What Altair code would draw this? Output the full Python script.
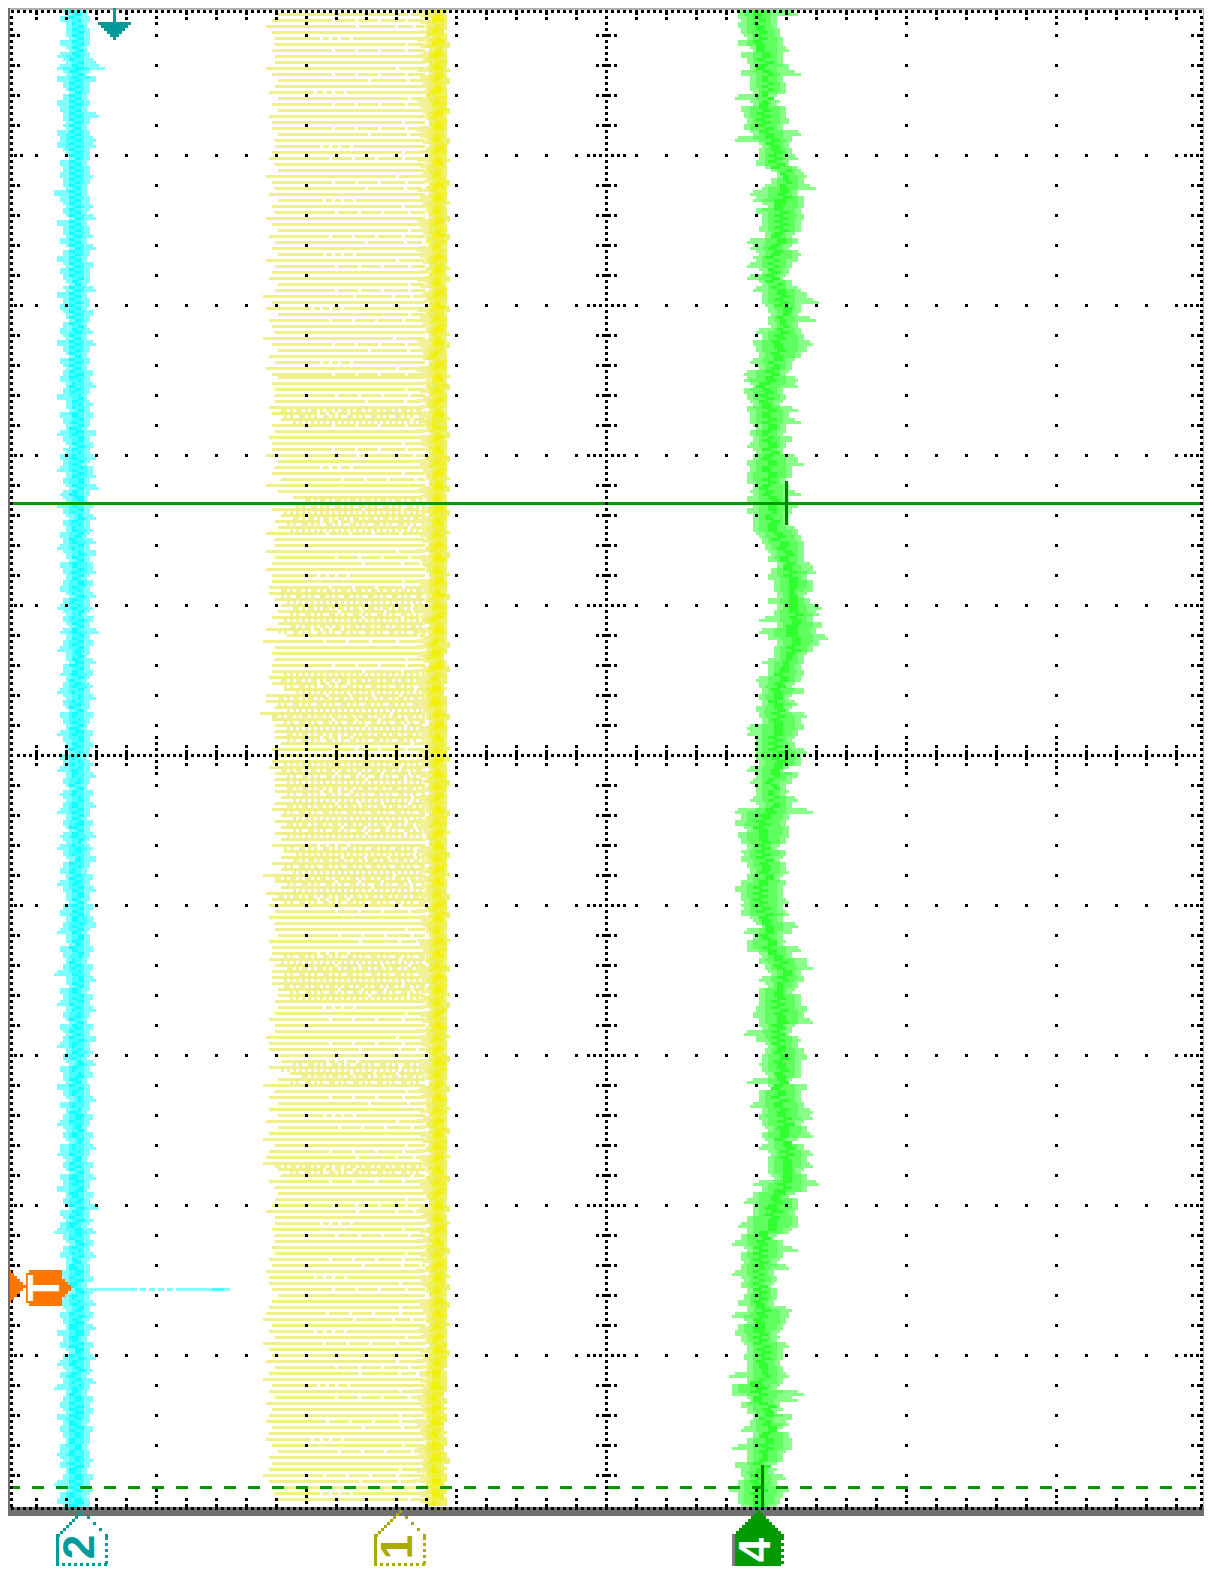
import altair as alt
import pandas as pd

# ---- traces (one row per 6 px of screen height) ----
# green: left/right extents, units of 1/3 px from x=720
GREEN_L = [60,50,60,50,60,80,50,100,60,80,90,60,90,90,95,42,95,60,70,80,70,95,42,130,115,115,105,150,175,150,130,90,95,140,105,125,125,115,135,80,90,115,105,80,125,80,125,95,125,125,140,150,140,150,105,125,95,105,120,90,115,70,70,100,70,80,95,80,90,90,105,90,100,80,105,100,80,90,80,80,100,100,80,
95,80,100,95,100,115,130,135,150,145,175,150,140,165,165,175,140,175,160,120,175,120,140,170,160,165,130,140,145,105,115,130,115,130,105,115,130,85,78,105,105,105,110,120,85,105,90,105,110,90,115,42,60,42,85,50,60,80,70,60,85,90,80,60,42,60,70,70,60,95,130,70,100,80,85,130,115,135,150,115,140,120,115,
115,105,95,115,125,70,105,140,135,125,120,125,140,80,155,115,115,90,130,115,125,140,125,140,115,150,140,140,140,165,100,130,95,70,100,100,85,50,85,60,35,80,60,70,60,35,70,60,80,70,50,80,35,85,50,42,60,80,80,70,85,85,25,85,35,35,90,60,85,100,90,60,100,80,35,85,80,42,60,70,50,25,50,50,70]
GREEN_R = [165,230,175,175,180,185,185,205,185,185,210,240,185,195,195,165,175,195,195,210,190,240,220,205,220,230,205,240,260,250,285,230,255,255,240,250,240,240,215,230,205,240,230,220,205,190,215,240,265,295,240,230,285,230,240,250,275,265,240,215,220,195,230,230,185,195,180,230,205,240,195,190,220,195,190,230,250,215,215,195,205,240,205,
230,215,210,205,230,240,250,250,255,255,275,285,260,275,275,250,270,310,300,275,310,285,320,295,280,255,250,240,250,240,215,255,205,230,210,265,240,255,230,220,225,265,240,245,190,230,220,200,195,230,220,275,205,195,205,210,195,175,195,180,195,205,180,195,185,185,210,185,205,185,230,215,185,185,240,215,265,275,240,250,230,215,240,
240,265,255,275,215,205,240,230,255,265,240,240,240,210,265,240,240,250,275,275,245,260,275,220,250,275,260,275,245,260,295,265,210,230,230,225,230,230,205,160,185,230,185,175,205,160,175,150,175,170,160,215,210,195,185,175,175,205,185,185,180,185,205,185,175,250,230,180,175,215,205,175,205,220,220,190,190,155,165,195,170,205,185,180,160]

# cyan: left/right extents in px
CYAN_L = [62,65,59,65,65,68,59,68,56,65,56,65,56,62,68,62,56,59,62,65,65,56,59,56,65,68,59,62,59,62,65,53,59,65,62,68,56,62,65,59,68,62,56,65,59,62,68,65,56,62,59,65,68,62,59,65,56,62,68,59,65,62,
59,66,63,56,65,68,60,63,66,57,62,68,65,60,63,57,66,62,68,60,65,57,63,68,62,66,59,63,57,65,68,60,63,66,62,59,68,63,57,65,62,68,60,66,63,58,65,68,62,60,66,63,57,65,62,68,60,63,66,57,62,65,68,60,
63,58,66,62,68,60,65,63,57,66,62,68,60,65,58,63,68,62,60,66,57,63,65,68,62,59,66,63,57,65,68,60,62,66,63,54,65,68,60,63,57,66,62,68,59,65,62,57,66,63,68,60,62,65,56,63,68,60,66,62,58,65,63,68,
60,57,65,62,68,60,63,56,66,62,68,59,65,60,55,63,68,62,59,65,66,56,62,60,68,63,57,65,59,62,66,56,63,60,68,62,57,65,60,63,55,66,62,59,65,56,63,60,62,66,59,57,62,
59,66,62,53,65,60,56,65,62,59,55,65]
CYAN_R = [88,88,89,88,89,89,89,87,89,95,104,88,95,90,89,88,89,87,98,89,88,89,95,95,89,89,87,89,92,89,86,86,90,93,88,95,87,89,92,88,96,89,87,93,89,91,88,95,87,90,88,94,89,86,92,88,96,89,87,91,88,93,
89,96,90,87,92,89,94,91,88,97,90,93,89,96,88,92,95,89,98,91,87,93,90,96,89,92,88,95,90,97,89,92,95,88,93,90,96,89,92,87,94,90,98,89,93,91,88,96,90,93,87,92,89,95,90,88,93,91,87,92,89,94,90,88,
92,89,95,90,87,93,89,96,91,88,93,90,95,88,92,89,97,90,87,93,89,95,91,88,94,89,92,96,88,91,89,94,90,87,93,89,96,91,88,92,90,95,89,87,93,90,97,89,92,88,95,90,93,87,91,89,96,90,88,94,91,87,92,89,
95,90,87,93,89,96,91,88,93,90,98,89,92,87,95,90,93,89,96,88,91,89,94,87,92,90,96,89,93,88,95,91,87,93,89,96,90,92,88,95,90,87,93,89,94,91,88,92,89,90,87,91,92,
90,87,93,89,92,88,91,89,94,87,92,90]

# yellow: stripe left end (1/3 px from x=260) and right edge of the bright band (px)
YELLOW_L = [18,54,36,18,36,45,45,36,45,45,18,36,54,45,27,54,36,54,27,36,36,54,45,45,36,27,45,54,18,36,45,27,54,36,45,18,36,54,27,45,36,54,18,45,36,27,54,45,9,36,18,54,27,36,45,9,36,54,27,45,18,36,
55,36,45,45,45,27,36,60,36,45,27,36,36,18,55,45,36,63,18,55,100,70,36,60,45,55,18,45,45,18,45,36,18,36,36,27,27,45,60,55,36,55,18,80,9,45,36,45,36,36,27,36,70,18,18,45,0,36,45,45,45,60,36,45,36,27,45,45,45,45,60,45,36,60,45,60,45,60,36,70,60,36,64,9,45,60,18,36,
25,45,27,45,45,54,27,36,40,27,45,36,36,36,54,54,45,54,45,27,45,45,18,27,27,45,60,27,90,54,9,45,27,54,27,54,18,54,27,9,45,27,18,9,54,63,27,45,54,45,36,18,45,45,36,45,45,36,45,27,36,18,27,27,36,54,36,
30,18,9,36,27,45,9,27,36,18,45,27,9,36,27,45,18,36,27,18,36,27,18,36,54,27,36,27,9,27,36,45,54]
YELLOW_R = [449,447,451,448,446,450,452,447,449,446,451,448,453,447,450,446,449,452,448,446,450,447,453,449,446,451,448,450,447,452,446,449,451,447,450,454,448,446,452,449,447,450,446,451,448,453,447,449,446,450,452,448,446,449,451,447,453,448,450,446,449,451,
447,452,448,446,450,447,451,449,446,453,448,450,447,452,446,449,451,448,454,447,450,446,452,449,447,451,448,450,446,453,449,447,451,448,446,450,452,447,449,446,451,448,450,447,453,449,446,448,452,447,450,448,446,451,449,447,452,448,446,450,447,451,449,454,447,450,446,452,449,448,450,447,453,449,446,451,448,450,
447,452,449,446,451,448,450,447,453,449,446,452,448,450,447,451,449,446,450,448,452,447,449,446,451,448,453,449,447,450,446,451,448,450,447,452,449,446,450,448,453,447,449,451,446,450,448,452,447,449,446,451,448,450,447,452,449,446,450,448,453,447,451,449,446,450,
448,452,447,449,446,451,448,454,450,447,452,449,446,451,448,450,447,449,452,446,450,448,447,451,449,446,450,448,447,449,446,448,447,
450,446,449,452,447,448,451,446,449,447,450,448,446,451]

DENSE_TOP = [407,495,583,670,760,843,948,1057,1160]
DENSE_BOTTOM = [420,527,630,737,833,903,1000,1083,1170]

CYAN_STRAY_START = [86,140,149,158,167,176]
CYAN_STRAY_END = [137,146,155,164,173,230]
ARROW_ROWS = [33,27,21,15,9,3]
TRIANGLE_REACH = [8,11,14,17,20,23,20,17,14,11,8]
BODY_REACH = [62,62,62,65,68,71,71,68,65,62,62,62]
MARKER_LABELS = ["2","1","4"]
MARKER_TIPS = [81,399,757]
MARKER_COLORS = ["#009C9C","#AAAA00","#009900"]
VIEW_W, VIEW_H = 1196, 1560

rects = []
def box(x0, x1, y0, y1, c):
    rects.append({"a": x0, "b": x1, "t": y0, "u": y1, "c": c})
def dot(x, y):
    box(x-1, x+2, y-1, y+2, "#000000")
def snap(v):
    return round(v/3)*3
def roll(seq, n):
    return list(pd.Series(seq).rolling(n, center=True, min_periods=1).median())

# ---- yellow stripes as dashed rules ----
DASHES = {"s": [2000, 1], "a": [130, 3, 60, 3, 400], "b": [60, 3, 20, 3, 20, 3, 24, 3, 300],
          "c": [90, 3, 36, 3, 15, 3, 21, 3, 400], "d": [45, 3, 6, 3, 6, 3, 9, 3, 400],
          "x": [3, 3], "y": [6, 3, 3, 3], "z": [3, 3, 3, 6, 6, 3]}
stripes = []
NAMES = "sabcsdabs"
def ky(i):
    return 8 + 6*i if i < 62 else 5 + 6*i
for i, v in enumerate(YELLOW_L):
    y = ky(i)
    if y > 1506:
        break
    xs = 260 + snap(v/3)
    stripes.append({"a": xs, "b": 425, "y": y + .5, "p": NAMES[i % 9], "c": "#F0F088"})
    if any(t <= y <= u for t, u in zip(DENSE_TOP, DENSE_BOTTOM)):
        stripes.append({"a": xs + 12, "b": 425, "y": y + 3.5, "p": "xyz"[i % 3], "c": "#F0F09C"})

# ---- yellow band ----
med = roll(YELLOW_R, 15)
for i, r in enumerate(YELLOW_R):
    y = 8 + 6*i
    if y > 1506:
        break
    c = med[i] - 15
    box(snap(c - 15 + (i % 4)*3), snap(c + 12), y - 2, y + 1, "#F2F098")
    box(snap(c - 18 + (i % 5)*3), snap(c + 12), y + 1, y + 4, "#F2F098")
    box(snap(c - 9 + (i % 3)*3), snap(r - 3), y - 2, y + 1, "#F0F070")
    box(snap(c - 6), snap((r + c + 12)/2), y + 1, y + 4, "#F0F070")
    box(snap(c - 3 + (i % 2)*3), snap(c + 6 + (r % 3)*3), y - 2, y + 1, "#F0F030")
    box(snap(c - 6 + (r % 2)*3), snap(c + 9), y + 1, y + 4, "#F0F040")
    box(snap(c), snap(c + 3 + (i % 3)*3), y - 2 + (i % 2)*3, y + 1 + (i % 2)*3, "#F0F000")

# ---- cyan and green bands ----
def band(L, R, y0, light, mid, core):
    mL, mR = roll(L, 5), roll(R, 5)
    n = len(L)
    for i, (l, r) in enumerate(zip(L, R)):
        y = y0 + 6*i
        if y > 1506:
            break
        nl, nr = L[(i + 1) % n], R[(i + 1) % n]
        box(snap(l), snap(r), y - 1, y + 2, light)
        box(snap((mL[i] + 2*nl)/3), snap((mR[i] + 2*nr)/3), y + 2, y + 5, light)
        a, b = max(mL[i], l) + 6, min(mR[i], r) - 6
        box(snap(a), snap(b), y - 1, y + 2, mid)
        box(snap(max(mL[i], nl) + 6), snap(min(mR[i], nr) - 6), y + 2, y + 5, mid)
        w = (mR[i] - mL[i]) * .11
        cen = (mL[i] + mR[i]) / 2
        s = int(l) % 3
        box(snap(cen - w + s*3 - 3), snap(cen + w + s*3 - 3), y - 1, y + 2, core)
        box(snap(cen - w - s*3 + 3), snap(cen + w - s*3 + 3), y + 2, y + 5, core)

band(CYAN_L, CYAN_R, 8, "#80FFFF", "#48FFFF", "#14FFFF")
band([720 + v/3 for v in GREEN_L], [720 + v/3 for v in GREEN_R], 8, "#88FF88", "#60FF60", "#30FF30")

# stray cyan sample row
for s, e in zip(CYAN_STRAY_START, CYAN_STRAY_END):
    box(s, e, 1288, 1291, "#80FFFF")
box(212, 224, 1288, 1291, "#40FFFF")

# ---- frame, drawn just inside the part of the page the chart can reach ----
box(0, 1212, 0, 10, "#B0B0B0")
box(1203, 1212, 0, 1510, "#B0B0B0")
box(0, 10, 0, 1516, "#707070")
box(0, 1212, 1507, 1516, "#707070")

# ---- green cursors ----
box(10, 1203, 502, 505, "#009900")
box(785, 788, 481, 525, "#007F00")
box(761, 764, 1465, 1508, "#007F00")
box(10, 20, 1486, 1489, "#009900")
for k in range(1, 50):
    box(8 + 24*k, min(20 + 24*k, 1203), 1486, 1489, "#009900")

# ---- graticule dots ----
MAJOR_X = [156, 306, 456, 606, 756, 906, 1056]
MAJOR_Y = [155, 305, 455, 605, 755, 905, 1055, 1205, 1355]
MINOR_X = list(range(36, 1177, 30))
MINOR_Y = list(range(35, 1476, 30))
for x in MAJOR_X:
    if x != 606:
        for y in MINOR_Y:
            dot(x, y)
        for y in [17, 23, 1490, 1496, 1502, 737, 743, 749, 761, 767, 773]:
            dot(x, y)
for y in MAJOR_Y:
    if y != 755:
        for x in MINOR_X:
            dot(x, y)
        for x in [15, 21, 1185, 1191, 1197, 588, 594, 600, 612, 618, 624]:
            dot(x, y)
for x in range(12, 1201, 6):
    dot(x, 11); dot(x, 1508)
for x in range(18, 1195, 6):
    dot(x, 755)
for y in range(17, 1506, 6):
    dot(11, y); dot(1201, y); dot(606, y)
for x in MINOR_X:
    if x not in MAJOR_X:
        box(x-1, x+2, 10, 15, "#000000"); dot(x, 18)
        box(x-1, x+2, 1504, 1510, "#000000"); dot(x, 1499)
        box(x-1, x+2, 750, 760, "#000000"); dot(x, 746); dot(x, 764)
for y in MINOR_Y:
    if y not in MAJOR_Y:
        box(10, 15, y-1, y+2, "#000000"); dot(18, y)
        box(1197, 1203, y-1, y+2, "#000000"); dot(1192, y)
        box(602, 611, y-1, y+2, "#000000"); dot(597, y); dot(615, y)

# ---- top arrow ----
box(113, 116, 8, 22, "#009999")
for i, w in enumerate(ARROW_ROWS):
    box(114.5 - w/2, 114.5 + w/2, 22 + 3*i, 25 + 3*i, "#009999")

# ---- trigger marker ----
for i, w in enumerate(TRIANGLE_REACH):
    box(10, w + 3, 1270 + 3*i, 1273 + 3*i, "#FF7700")
for i, w in enumerate(BODY_REACH):
    box(29, w, 1270 + 3*i, 1273 + 3*i, "#FF7700")
box(26, 29, 1273, 1303, "#FF7700")

# ---- channel markers ----
BOTTOM = 1566
for tip, col, lab in zip(MARKER_TIPS, MARKER_COLORS, MARKER_LABELS):
    filled = lab == "4"
    for i in range(9):
        if filled:
            box(tip - 3*i, tip + 3*i + 3, 1510 + 3*i, 1513 + 3*i, col)
        else:
            box(tip - 3*i, tip - 3*i + 3, 1510 + 3*i, 1513 + 3*i, col)
            if i % 2 == 0:
                box(tip + 3*i, tip + 3*i + 3, 1510 + 3*i, 1513 + 3*i, col)
    left, right = tip - 25, tip + 24
    if filled:
        box(left + 3, right, 1537, BOTTOM, col)
        box(left, left + 3, 1534, BOTTOM, "#808080")
    else:
        box(left, left + 3, 1534, BOTTOM, col)
    for y in range(1537, BOTTOM, 6):
        box(right, right + 3, y, y + 3, col)
    if not filled:
        for x in range(left + 6, right, 6):
            box(x, x + 3, BOTTOM - 3, BOTTOM, col)

xs_scale = alt.Scale(domain=[0, VIEW_W], range=[0, VIEW_W])
ys_scale = alt.Scale(domain=[0, VIEW_H], range=[0, VIEW_H])
enc_x = alt.X("a:Q", scale=xs_scale, axis=None)
enc_y = alt.Y("t:Q", scale=ys_scale, axis=None)

stripe_layer = alt.Chart(pd.DataFrame(stripes)).mark_rule(strokeWidth=3).encode(
    x=enc_x, x2="b:Q",
    y=alt.Y("y:Q", scale=ys_scale, axis=None),
    color=alt.Color("c:N", scale=None),
    strokeDash=alt.StrokeDash("p:N", legend=None,
                              scale=alt.Scale(domain=list(DASHES), range=list(DASHES.values()))),
)
rect_layer = alt.Chart(pd.DataFrame(rects)).mark_rect(strokeWidth=0).encode(
    x=enc_x, x2="b:Q", y=enc_y, y2="u:Q", color=alt.Color("c:N", scale=None),
    order=alt.Order("i:Q"),
).transform_window(i="row_number()")

labels = pd.DataFrame({
    "a": [45.5, 81, 399, 757], "t": [1288, 1547, 1547, 1550],
    "s": ["T", "2", "1", "4"],
    "c": ["#FFFFFF", "#009C9C", "#AAAA00", "#FFFFFF"],
})
text_layer = alt.Chart(labels).mark_text(
    angle=270, font="Liberation Sans", fontWeight="bold", fontSize=44,
    align="center", baseline="middle").encode(
    x=enc_x, y=enc_y, text="s:N", color=alt.Color("c:N", scale=None))

chart = alt.layer(stripe_layer, rect_layer, text_layer).resolve_scale(color="independent").properties(
    width=VIEW_W, height=VIEW_H, padding={"left": -8, "top": -8, "right": 8, "bottom": 8},
    autosize=alt.AutoSizeParams(type="none"),
    background="#FFFFFF",
).configure_view(stroke=None)

chart.save("out.html", embed_options={"renderer": "svg", "actions": False})
